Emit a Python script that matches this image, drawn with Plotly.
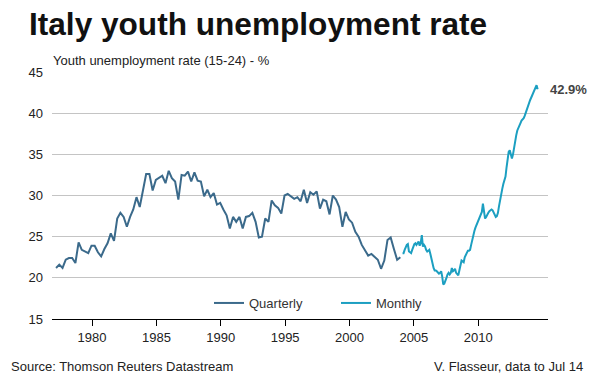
import pandas as pd
import plotly.graph_objects as go

# ---- data ----
quarterly_start = "1977-02-15"
quarterly_values = [
    21.2, 21.6, 21.2, 22.2, 22.4, 22.4, 21.8, 24.3, 23.4, 23.2,
    23.0, 23.9, 23.9, 23.1, 22.6, 23.5, 24.2, 25.4, 24.5, 27.2,
    27.9, 27.4, 26.2, 27.4, 28.3, 29.8, 28.6, 30.6, 32.6, 32.6,
    30.6, 31.9, 32.2, 32.4, 31.5, 33.0, 32.1, 31.7, 29.5, 32.5,
    32.4, 32.9, 31.7, 32.8, 31.8, 31.7, 29.9, 30.7, 29.8, 30.3,
    28.9, 29.1, 28.3, 27.6, 26.0, 27.4, 26.8, 27.4, 26.0, 27.4,
    27.5, 27.9, 26.8, 24.9, 25.0, 27.2, 26.8, 29.4, 28.8, 28.5,
    27.8, 30.0, 30.2, 29.9, 29.6, 29.8, 29.3,
    30.7, 29.1, 30.4, 30.1, 30.5, 28.4, 29.5, 29.3, 27.7, 30.0,
    29.5, 28.6, 26.2, 28.0, 27.1, 26.7, 25.6, 25.0, 24.0, 23.3,
    22.7, 22.9, 22.6, 22.2, 21.1, 22.1, 24.6, 24.9, 23.5, 22.2, 22.5,
]
monthly_start = "2004-01-15"
monthly_values = [
    23.0, 23.0, 23.4, 23.75, 24.0, 24.1, 23.2, 23.1, 23.0, 23.4,
    23.75, 24.1, 24.2, 24.0, 24.2, 24.4, 23.9, 24.2, 25.2, 23.8,
    24.0, 23.8, 23.4, 23.2, 23.3, 23.4, 22.9, 22.2, 21.6, 21.2,
    20.9, 20.9, 20.8, 20.6, 20.5, 20.6, 20.8, 20.2, 19.2, 19.3,
    19.8, 20.0, 20.4, 20.6, 20.4, 20.6, 21.2, 20.8, 20.9, 21.1,
    20.6, 20.4, 20.3, 20.9, 21.4, 22.1, 22.0, 21.9, 22.5, 22.8,
    23.0, 23.3, 23.3, 23.4, 24.0, 24.7, 25.2, 25.7, 26.1, 26.4,
    26.7, 27.0, 27.3, 27.6, 28.0, 29.0, 27.8, 27.2, 27.4, 27.8,
    27.9, 28.1, 28.2, 28.3, 28.2, 27.9, 27.6, 27.4, 27.5, 27.9,
    28.7, 29.5, 30.4, 30.8, 31.4, 31.8, 32.3, 33.4, 34.6, 35.3,
    35.5, 35.0, 34.5, 35.0, 35.9, 36.6, 37.3, 37.9, 38.3, 38.6,
    38.8, 39.1, 39.2, 39.4, 39.7, 40.1, 40.6, 41.0, 41.3, 41.6,
    41.9, 42.2, 42.5, 42.9, 43.2, 43.4, 42.9,
]
series_names = ["Quarterly", "Monthly"]
tick_years = [1980, 1985, 1990, 1995, 2000, 2005, 2010]
y_ticks = [15, 20, 25, 30, 35, 40, 45]
title_text = "Italy youth unemployment rate"
subtitle_text = "Youth unemployment rate (15-24) - %"
source_text = "Source: Thomson Reuters Datastream"
credit_text = "V. Flasseur, data to Jul 14"
last_label = "42.9%"

q_dates = pd.date_range(quarterly_start, periods=len(quarterly_values), freq="3MS") + pd.Timedelta(days=14)
m_dates = pd.date_range(monthly_start, periods=len(monthly_values), freq="MS") + pd.Timedelta(days=14)

FONT = "Liberation Sans, Arial, sans-serif"
W, H = 600, 376
L, R, T, B = 52, 52, 72, 57
PH = H - T - B

def py(ypix):
    return (H - B - ypix) / PH

def px(xpix):
    return (xpix - L) / (W - L - R)

fig = go.Figure()
fig.add_trace(go.Scatter(x=q_dates, y=quarterly_values, mode="lines", name=series_names[0],
                         line=dict(color="#3b6a8b", width=2)))
fig.add_trace(go.Scatter(x=m_dates, y=monthly_values, mode="lines", name=series_names[1],
                         line=dict(color="#1c9fc1", width=2)))

fig.update_layout(
    width=W, height=H,
    margin=dict(l=L, r=R, t=T, b=B),
    paper_bgcolor="white", plot_bgcolor="white",
    font=dict(family=FONT, size=13, color="#222"),
    showlegend=True,
    legend=dict(orientation="h", x=px(209), xanchor="left", y=py(303), yanchor="middle",
                font=dict(size=13, color="#333"), bgcolor="rgba(0,0,0,0)",
                entrywidth=82, entrywidthmode="pixels"),
    xaxis=dict(type="date", range=["1976-11-20", "2015-06-05"],
               tickvals=[f"{y}-01-01" for y in tick_years], ticktext=[str(y) for y in tick_years],
               showgrid=False, zeroline=False,
               showline=True, linecolor="#000", linewidth=1,
               ticks="outside", ticklen=6, tickcolor="#000", tickwidth=1,
               tickfont=dict(size=13, color="#222")),
    yaxis=dict(range=[15, 45], tickvals=y_ticks, showgrid=True, gridcolor="#c4c4c4", gridwidth=1,
               zeroline=False, showline=False, ticks="", ticklabelstandoff=8,
               tickfont=dict(size=13, color="#222")),
)

annotations = [
    dict(text=title_text, xref="paper", yref="paper", x=px(27), y=py(24), xanchor="left", yanchor="middle",
         showarrow=False, font=dict(family=FONT, size=31.6, color="#111", weight="bold")),
    dict(text=subtitle_text, xref="paper", yref="paper", x=px(51), y=py(61), xanchor="left", yanchor="middle",
         showarrow=False, font=dict(family=FONT, size=13, color="#222")),
    dict(text=source_text, xref="paper", yref="paper", x=px(9), y=py(366), xanchor="left", yanchor="middle",
         showarrow=False, font=dict(family=FONT, size=13, color="#222")),
    dict(text=credit_text, xref="paper", yref="paper", x=px(585), y=py(366), xanchor="right", yanchor="middle",
         showarrow=False, font=dict(family=FONT, size=13, color="#222")),
    dict(text=last_label, xref="x", yref="y", x=m_dates[-1], y=monthly_values[-1], xanchor="left",
         yanchor="middle", xshift=10, showarrow=False,
         font=dict(family=FONT, size=13, color="#444", weight="bold")),
]
fig.update_layout(annotations=annotations)

fig.write_html("out.html", config={"displayModeBar": False},
               post_script="document.body.style.margin='0';")
